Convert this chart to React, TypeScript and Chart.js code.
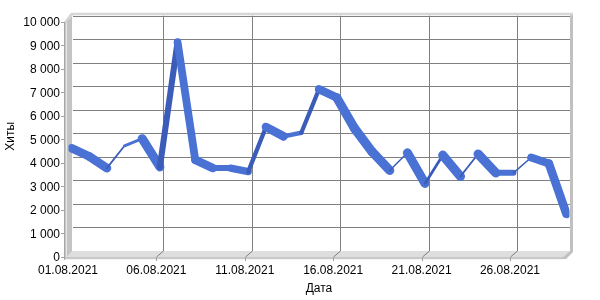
import React, { useEffect, useRef } from 'react';
import { Chart, registerables } from 'chart.js';
Chart.register(...registerables);

const dates = [
  '01.08.2021', '02.08.2021', '03.08.2021', '04.08.2021', '05.08.2021',
  '06.08.2021', '07.08.2021', '08.08.2021', '09.08.2021', '10.08.2021',
  '11.08.2021', '12.08.2021', '13.08.2021', '14.08.2021', '15.08.2021',
  '16.08.2021', '17.08.2021', '18.08.2021', '19.08.2021', '20.08.2021',
  '21.08.2021', '22.08.2021', '23.08.2021', '24.08.2021', '25.08.2021',
  '26.08.2021', '27.08.2021', '28.08.2021', '29.08.2021',
];
const hits = [
  4500, 4150, 3650, 4600, 4900, 3700, 9000, 4000, 3650, 3650,
  3500, 5400, 5000, 5150, 7000, 6650, 5350, 4350, 3550, 4300,
  3000, 4200, 3300, 4250, 3450, 3450, 4100, 3850, 1700,
];
const labelEvery = 5;
const yMin = 0;
const yMax = 10000;
const yStep = 1000;
const xTitle = 'Дата';
const yTitle = 'Хиты';

const FONT = "'Liberation Sans', Arial, sans-serif";
const DX = 3.5; // half depth (x)
const DY = -3; // half depth (y)

const fmt = (v: number) => String(v).replace(/\B(?=(\d{3})+(?!\d))/g, ' ');

const wallsPlugin = {
  id: 'walls3d',
  beforeDatasetsDraw(chart: any) {
    const { ctx, chartArea: a, scales } = chart;
    const xs = scales.x;
    const ys = scales.y;
    const fL = a.left - DX, bL = a.left + DX;
    const fR = a.right - DX, bR = a.right + DX;
    const yTf = a.top - DY, yTb = a.top + DY;
    const yBf = a.bottom - DY, yBb = a.bottom + DY;
    ctx.save();
    const poly = (pts: number[][], fill: string, stroke?: string) => {
      ctx.beginPath();
      ctx.moveTo(pts[0][0], pts[0][1]);
      for (let i = 1; i < pts.length; i++) ctx.lineTo(pts[i][0], pts[i][1]);
      ctx.closePath();
      ctx.fillStyle = fill;
      ctx.fill();
      if (stroke) { ctx.strokeStyle = stroke; ctx.lineWidth = 1; ctx.stroke(); }
    };
    const line = (x1: number, y1: number, x2: number, y2: number, c: string) => {
      ctx.beginPath();
      ctx.moveTo(x1, y1);
      ctx.lineTo(x2, y2);
      ctx.strokeStyle = c;
      ctx.lineWidth = 1;
      ctx.stroke();
    };
    // floor
    poly([[fL - 3, yBf], [bL - 3, yBb], [bR, yBb], [fR, yBf]], '#dedede');
    ctx.fillStyle = '#c8c8c8';
    ctx.fillRect(fL - 3, yBf, fR - fL + 3, 2);
    line(fL - 3, yBf + 2.5, fR, yBf + 2.5, '#f4f4f4');
    // right wall side
    poly([[bR, yTb - 1], [bR + 3, yTb - 1], [bR + 3, yBb + 1], [fR + 3, yBf + 2], [fR, yBf + 2], [fR, yBf], [bR, yBb]], '#c0c0c0');
    // left wall
    poly([[fL - 3, yTf + 1], [bL - 3, yTb], [bL - 3, yBb], [fL - 3, yBf + 2]], '#c4c4c4');
    line(fL - 3.5, yTf + 1, fL - 3.5, yBf + 3, '#a8a8a8');
    line(fL - 1.5, yTf + 1, fL - 1.5, yBf, '#e8e8e8');
    // top band
    poly([[fL - 4, yTf], [bL - 4, yTb - 3], [bR + 3, yTb - 3], [bR + 3, yTb - 0.5], [bL - 2, yTb - 0.5], [fL - 2, yTf + 1]], '#d6d6d6');
    // horizontal grid lines on back wall
    for (let v = yMin; v <= yMax; v += yStep) {
      const py = Math.round(ys.getPixelForValue(v) + DY) + 0.5;
      if (v > yMin) line(bL - 2, py, bR, py, '#808080');
      const fy = Math.round(ys.getPixelForValue(v) - DY) + 0.5;
      line(fL - 7, fy, fL - 3, fy, '#a0a0a0');
    }
    // vertical grid lines
    xs.ticks.forEach((_t: any, i: number) => {
      if (i % labelEvery !== 0 || i === 0) return;
      const px = Math.round(xs.getPixelForTick(i) + DX) + 0.5;
      line(px, yTb, px, yBb, '#808080');
      line(px, yBb, px - 2 * DX, yBf, '#808080');
      line(px - 2 * DX, yBf, px - 2 * DX, yBf + 4, '#a0a0a0');
    });
    ctx.restore();
  },
};

export default function App() {
  const ref = useRef<HTMLCanvasElement>(null);
  useEffect(() => {
    if (!ref.current) return;
    const depthCross = (c: any) => {
      const dx = c.p1.x - c.p0.x;
      const dy = c.p1.y - c.p0.y;
      const len = Math.hypot(dx, dy) || 1;
      return (dx * (2 * DY) - dy * (2 * DX)) / len;
    };
    const chart = new Chart(ref.current, {
      type: 'line',
      data: {
        labels: dates,
        datasets: [
          {
            data: hits,
            borderColor: '#4a72d4',
            borderWidth: 6,
            pointRadius: 0,
            tension: 0,
            borderCapStyle: 'round',
            borderJoinStyle: 'round',
            segment: {
              borderWidth: (c: any) => Math.max(1.5, Math.abs(depthCross(c))),
              borderColor: (c: any) => (depthCross(c) > 0 ? '#3b5cb8' : '#4a72d4'),
            },
          } as any,
        ],
      },
      options: {
        responsive: false,
        animation: false,
        layout: { padding: { left: 0, right: 33.5, top: 16, bottom: 0 } },
        plugins: { legend: { display: false }, tooltip: { enabled: false } },
        scales: {
          x: {
            type: 'category',
            offset: false,
            grid: { display: false, drawTicks: false },
            border: { display: false },
            ticks: {
              autoSkip: false,
              maxRotation: 0,
              minRotation: 0,
              padding: 9,
              labelOffset: -DX,
              color: '#000',
              font: { family: FONT, size: 12 },
              callback: (_v: any, i: number) => (i % labelEvery === 0 ? dates[i] : ''),
            },
            title: { display: true, text: xTitle, color: '#000', font: { family: FONT, size: 12 }, padding: { top: 2, bottom: 4 } },
            afterFit: (s: any) => { s.height = 46; },
          },
          y: {
            min: yMin,
            max: yMax,
            grid: { display: false, drawTicks: false },
            border: { display: false },
            ticks: {
              stepSize: yStep,
              padding: 11.5,
              labelOffset: 4,
              color: '#000',
              font: { family: FONT, size: 12 },
              callback: (v: any) => fmt(Number(v)),
            },
            title: { display: true, text: yTitle, color: '#000', font: { family: FONT, size: 12 }, padding: { top: 3, bottom: 3 } },
            afterFit: (s: any) => { s.width = 71.5; },
          },
        },
      },
      plugins: [wallsPlugin],
    });
    return () => chart.destroy();
  }, []);
  return (
    <div style={{ position: 'absolute', left: 0, top: 0, width: 600, height: 300, background: '#fff' }}>
      <canvas ref={ref} width={600} height={300} style={{ display: 'block' }} />
    </div>
  );
}
